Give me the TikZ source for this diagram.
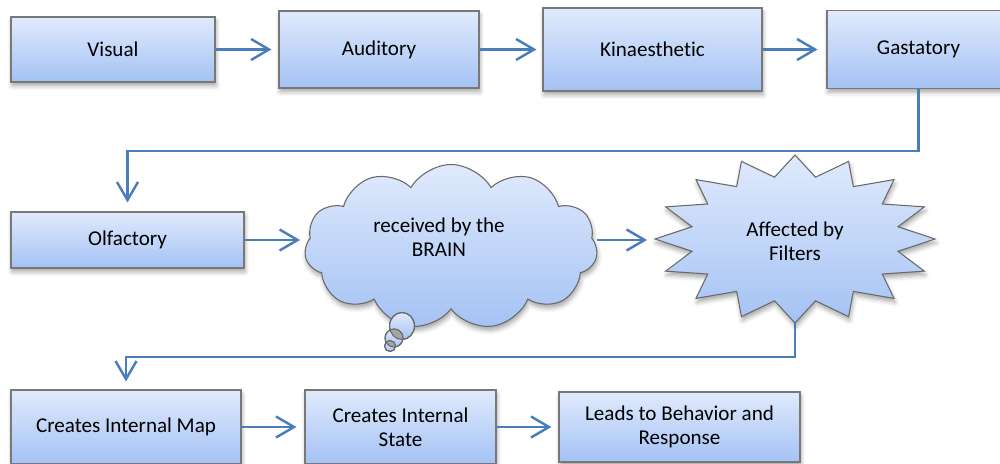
\documentclass[tikz,border=0pt]{standalone}
\usepackage{fontspec}
\setmainfont{Carlito}[Ligatures=CommonOff]
\usetikzlibrary{arrows.meta,shapes.symbols,shadows.blur}
\definecolor{lineblue}{RGB}{74,126,187}
\definecolor{boxtop}{RGB}{224,234,252}
\definecolor{boxbot}{RGB}{164,194,244}
\definecolor{bordergray}{RGB}{120,120,120}
\definecolor{cloudgray}{RGB}{105,105,105}
\definecolor{overlapgray}{RGB}{165,165,165}
\begin{document}
\begin{tikzpicture}[x=0.02cm,y=-0.02cm,
  font=\fontsize{12pt}{13.7pt}\selectfont,
  shadefill/.style={top color=boxtop, bottom color=boxbot, draw=bordergray, line width=0.6pt},
  softshadow/.style={blur shadow={shadow xshift=0.6pt, shadow yshift=-2.2pt, shadow blur radius=2.5pt, shadow opacity=35}},
  box/.style={shadefill, softshadow, rectangle, inner sep=2pt, align=center, text=black},
  wh/.style 2 args={minimum width=#1*0.02cm, minimum height=#2*0.02cm},
  plain/.style={align=center, text=black, inner sep=0pt},
  conn/.style={draw=lineblue, line width=1.4pt, -{Straight Barb[length=0.36cm,width=0.42cm,line width=1.4pt]}}]
\useasboundingbox (0,0) rectangle (1000,463);
\clip (0,0) rectangle (1000,463);

% row 1
\node[box, wh={204}{65}] (vis) at (113,49.5) {Visual};
\node[box, wh={200}{77}] (aud) at (379,49.5) {Auditory};
\node[box, wh={219}{83}] (kin) at (652.5,49.5) {Kinaesthetic};
\node[box, wh={183}{78}] (gas) at (918.5,49.5) {Gastatory};

% row 2
\node[box, wh={233}{56}] (olf) at (127.5,240) {Olfactory};

% cloud
\node[cloud, cloud puffs=11, cloud puff arc=120, aspect=1.78, wh={293}{165},
      shadefill, draw=cloudgray, softshadow] (brain) at (451,247) {};
\node[plain] (braintxt) at (439,237) {received by the\\BRAIN};
% thought bubbles
\path[shadefill, draw=cloudgray] (402,326) ellipse [x radius=12.5, y radius=13.5];
\path[shadefill, draw=cloudgray] (394,338) circle [radius=9];
\path[shadefill, draw=cloudgray] (390,346) circle [radius=5.5];
\begin{scope}
  \clip (402,326) ellipse [x radius=12.5, y radius=13.5];
  \fill[overlapgray] (394,338) circle [radius=9];
\end{scope}
\begin{scope}
  \clip (394,338) circle [radius=9];
  \fill[overlapgray] (390,346) circle [radius=5.5];
\end{scope}
\draw[cloudgray, line width=0.6pt] (402,326) ellipse [x radius=12.5, y radius=13.5];
\draw[cloudgray, line width=0.6pt] (394,338) circle [radius=9];
\draw[cloudgray, line width=0.6pt] (390,346) circle [radius=5.5];

% starburst
\path[shadefill, draw=cloudgray, softshadow]
  plot[samples at={0,1,...,31}, variable=\k]
  ({795+140*(1-0.25*mod(\k,2))*cos(\k*11.25)}, {239+84*(1-0.25*mod(\k,2))*sin(\k*11.25)}) -- cycle;
\node[plain] (filttxt) at (795,241) {Affected by\\Filters};
\coordinate (filtW) at (655,240);
\coordinate (filtS) at (795,323);

% row 3
\node[box, wh={230}{74}] (map) at (126,427) {Creates Internal Map};
\node[box, wh={191}{74}] (state) at (400.5,427) {Creates Internal\\State};
\node[box, wh={241}{70}] (leads) at (679.5,427) {Leads to Behavior and\\Response};

% corner points of the elbow connectors
\coordinate (k1) at (127.5,151);
\coordinate (k2) at (126,357);

% connectors
\draw[conn, shorten >=0.14cm] (vis) -- (aud);
\draw[conn, shorten >=0.12cm] (aud) -- (kin);
\draw[conn, shorten >=0.18cm] (kin) -- (gas);
\draw[conn, shorten >=0.18cm] (gas.south) |- (k1) -- (olf.north);
\draw[conn, shorten >=0.1cm] (olf.east) -- (olf.east -| brain.west);
\draw[conn, shorten >=0.16cm] (brain.east |- filtW) -- (filtW);
\draw[conn, shorten >=0.16cm] (filtS) |- (k2) -- (map.north);
\draw[conn, shorten >=0.16cm] (map) -- (state);
\draw[conn, shorten >=0.14cm] (state) -- (leads);
\end{tikzpicture}
\end{document}
